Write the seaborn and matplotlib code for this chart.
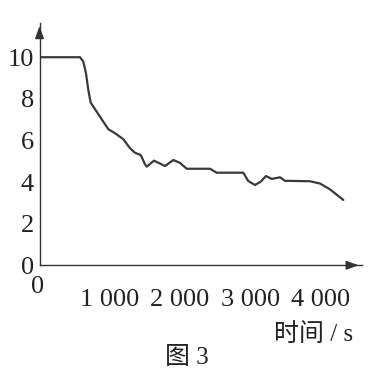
import matplotlib
matplotlib.use("Agg")
import matplotlib.pyplot as plt
import seaborn as sns
import pandas as pd

# Data
time_s = [0, 577, 624, 662, 695, 729, 766, 862, 980, 1075, 1194, 1289, 1360, 1442,
          1503, 1527, 1631, 1788, 1906, 2001, 2097, 2429, 2524, 2903, 2974, 3070,
          3151, 3226, 3308, 3426, 3497, 3853, 3996, 4138, 4328]
value = [10.0, 10.0, 9.79, 9.23, 8.43, 7.82, 7.63, 7.14, 6.54, 6.35, 6.06, 5.63, 5.41, 5.30,
         4.86, 4.74, 5.03, 4.77, 5.06, 4.92, 4.64, 4.64, 4.45, 4.45, 4.05, 3.86,
         4.02, 4.29, 4.15, 4.23, 4.06, 4.04, 3.93, 3.65, 3.14]
x_ticks = [1000, 2000, 3000, 4000]
x_tick_labels = ["1 000", "2 000", "3 000", "4 000"]
y_ticks = [0, 2, 4, 6, 8, 10]
y_tick_labels = ["0", "2", "4", "6", "8", "10"]
x_title = "时间 / s"
fig_caption = "图 3"

sns.set_style("white")
plt.rcParams["font.family"] = ["Liberation Serif", "Noto Sans CJK SC", "DejaVu Sans"]

df = pd.DataFrame({"t": time_s, "v": value})

fig = plt.figure(figsize=(3.75, 3.69), dpi=100)
ax = fig.add_axes([39.5 / 375, 1 - 265.3 / 369, 322 / 375, 242 / 369])

sns.lineplot(data=df, x="t", y="v", ax=ax, color="#3a3a3a", linewidth=1.6)

ax.set_xlim(0, 4587)
ax.set_ylim(0, 11.63)
ax.set_xlabel("")
ax.set_ylabel("")

for s in ["top", "right"]:
    ax.spines[s].set_visible(False)
for s in ["left", "bottom"]:
    ax.spines[s].set_color("#333333")
    ax.spines[s].set_linewidth(1.0)

ax.set_xticks(x_ticks)
ax.set_xticklabels(x_tick_labels)
ax.set_yticks(y_ticks)
ax.set_yticklabels(y_tick_labels)
ax.tick_params(axis="both", direction="in", length=6, width=1.0, color="#333333",
               labelsize=19, labelcolor="#222222")
ax.tick_params(axis="x", pad=17)
ax.tick_params(axis="y", pad=4)

# arrowheads on axes
ax.annotate("", xy=(1.0, 0), xytext=(0.95, 0), xycoords="axes fraction",
            arrowprops=dict(arrowstyle="-|>,head_length=0.5,head_width=0.18",
                            color="#333333", lw=1.0, mutation_scale=15))
ax.annotate("", xy=(0, 1.0), xytext=(0, 0.95), xycoords="axes fraction",
            arrowprops=dict(arrowstyle="-|>,head_length=0.5,head_width=0.18",
                            color="#333333", lw=1.0, mutation_scale=15))

# origin label
ax.annotate("0", xy=(0, 0), xycoords="data", xytext=(-1.5, -21.7), textcoords="offset pixels",
            ha="center", va="center", fontsize=19, color="#222222")

fig.text(314 / 375, 1 - 335 / 369, x_title, ha="center", va="center", fontsize=18, color="#222222")
fig.text(187 / 375, 1 - 358 / 369, fig_caption, ha="center", va="center", fontsize=18, color="#222222")

fig.savefig("out.png", dpi=100)
